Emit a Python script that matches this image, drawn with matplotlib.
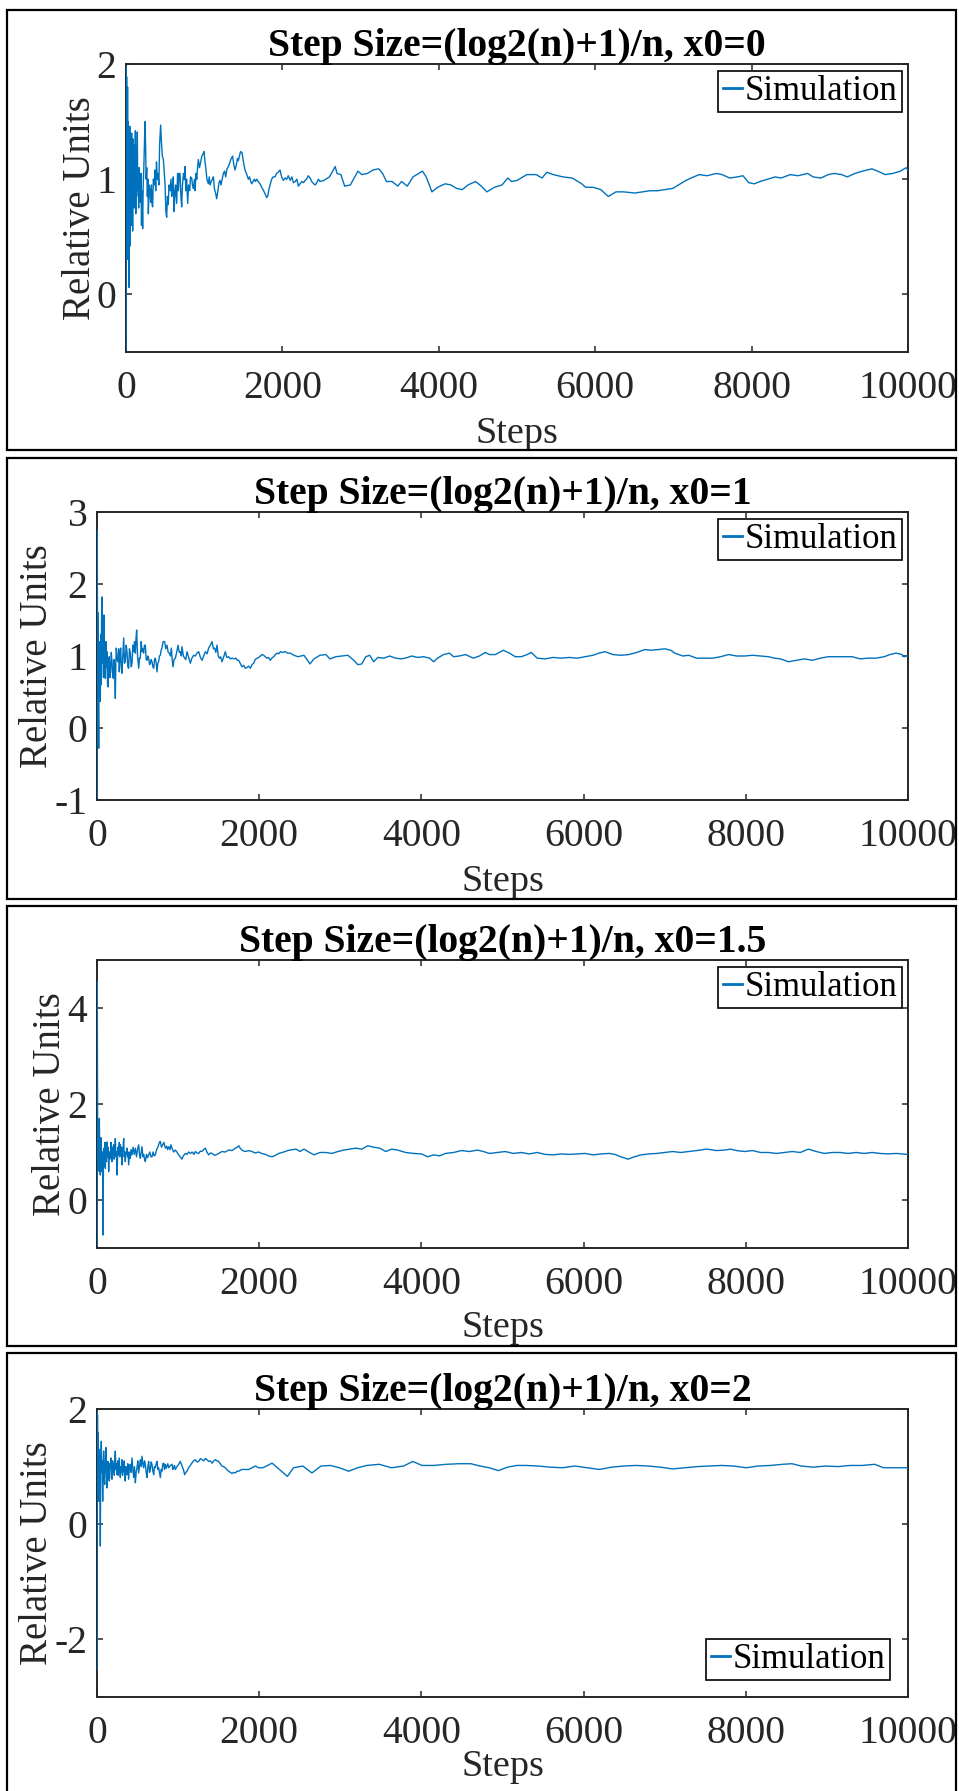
import matplotlib
matplotlib.use("Agg")
import matplotlib.pyplot as plt
from matplotlib.patches import Rectangle

# ---------------- data ----------------
titles = ["Step Size=(log2(n)+1)/n, x0=0",
          "Step Size=(log2(n)+1)/n, x0=1",
          "Step Size=(log2(n)+1)/n, x0=1.5",
          "Step Size=(log2(n)+1)/n, x0=2"]
y_limits = [(-0.5, 2), (-1, 3), (-1, 5), (-3, 2)]
y_ticks = [[0, 1, 2], [-1, 0, 1, 2, 3], [0, 2, 4], [-2, 0, 2]]
x_ticks = [0, 2000, 4000, 6000, 8000, 10000]
legend_label = "Simulation"
x_label = "Steps"
y_label = "Relative Units"

p1_trace = [
    (1, -0.48), (2, 1.98), (5, 1.2), (8, 1.89), (11, 0.3), (14, 1.7), (17, 0.5), (20, 1.8), (24, 0.35), (28, 1.5),
    (32, 0.6), (36, 1.3), (40, 0.06), (44, 0.9), (48, 1.46), (52, 0.42), (56, 1.4), (60, 0.9), (64, 1.1), (68, 0.6),
    (72, 1.4), (76, 0.8), (80, 1.2), (85, 0.55), (90, 1.35), (95, 0.85), (100, 1.3), (105, 0.75), (110, 1.2), (115, 0.95),
    (120, 1.42), (125, 0.7), (130, 1.2), (135, 0.85), (140, 1.1), (145, 1.41), (150, 0.9), (156, 1.05), (162, 0.75), (168, 1.1),
    (174, 0.9), (180, 1.0), (186, 0.8), (192, 1.05), (198, 0.6), (204, 0.9), (213, 0.57), (220, 0.95), (228, 1.1), (236, 1.3),
    (243, 1.5), (250, 1.3), (258, 1.0), (265, 1.1), (273, 0.85), (280, 1.0), (286, 0.7), (295, 0.95), (305, 0.9), (315, 0.8),
    (325, 0.95), (333, 0.78), (341, 0.76), (350, 1.0), (360, 0.95), (371, 1.08), (380, 0.9), (390, 1.15), (400, 1.0), (410, 1.05),
    (420, 0.95), (430, 1.3), (443, 1.47), (455, 1.3), (465, 1.2), (478, 1.17), (490, 1.05), (500, 0.95), (510, 0.72), (520, 0.67),
    (530, 0.85), (540, 0.78), (550, 0.95), (563, 0.9), (575, 1.0), (585, 0.85), (595, 0.95), (605, 1.02), (615, 0.72), (625, 0.88),
    (635, 0.95), (648, 0.79), (660, 1.05), (670, 0.9), (680, 1.05), (691, 1.05), (702, 0.85), (712, 0.76), (722, 0.95), (735, 1.05),
    (745, 1.0), (755, 1.11), (765, 0.9), (775, 1.0), (789, 0.79), (800, 0.95), (815, 0.9), (825, 1.02), (840, 1.01), (850, 0.95),
    (862, 0.92), (875, 1.0), (883, 0.9), (895, 1.05), (905, 1.0), (915, 1.1), (925, 1.17), (940, 1.1), (955, 1.15), (970, 1.2),
    (985, 1.22), (998, 1.24), (1010, 1.15), (1020, 1.1), (1035, 1.0), (1053, 0.96), (1065, 1.02), (1075, 0.95), (1090, 0.98), (1105, 1.0),
    (1117, 1.02), (1130, 0.92), (1145, 0.88), (1160, 0.83), (1175, 0.9), (1190, 0.97), (1202, 0.99), (1215, 0.95), (1230, 1.0), (1245, 1.05),
    (1260, 1.07), (1275, 1.02), (1288, 1.08), (1300, 1.1), (1315, 1.12), (1330, 1.15), (1345, 1.18), (1364, 1.2), (1380, 1.12), (1394, 1.08),
    (1410, 1.12), (1425, 1.18), (1437, 1.16), (1450, 1.2), (1465, 1.24), (1484, 1.23), (1495, 1.18), (1510, 1.12), (1522, 1.08), (1540, 1.05),
    (1555, 1.02), (1565, 1.0), (1580, 1.02), (1595, 0.98), (1608, 0.96), (1625, 0.98), (1640, 1.0), (1655, 0.98), (1671, 1.0), (1690, 0.98),
    (1714, 0.96), (1735, 0.93), (1760, 0.9), (1780, 0.87), (1800, 0.84), (1815, 0.86), (1830, 0.92), (1850, 0.97), (1863, 1.0), (1880, 1.02),
    (1906, 1.02), (1925, 1.05), (1945, 1.06), (1970, 1.08), (1990, 1.02), (2013, 0.99), (2035, 1.01), (2055, 1.0), (2075, 1.03), (2100, 0.99),
    (2120, 1.02), (2141, 0.97), (2165, 0.98), (2185, 1.0), (2205, 0.94), (2225, 0.96), (2250, 0.98), (2270, 0.97), (2290, 0.99), (2310, 1.0),
    (2330, 1.03), (2354, 1.01), (2375, 0.98), (2400, 0.96), (2420, 0.95), (2439, 0.97), (2460, 1.0),
    (2481, 0.98), (2530, 0.99), (2602, 1.02), (2675, 1.11), (2699, 1.05), (2748, 1.04), (2796, 0.94), (2869, 0.95), (2966, 1.07), (3015, 1.04),
    (3087, 1.05), (3160, 1.08), (3233, 1.09), (3281, 1.05), (3330, 0.98), (3403, 0.98), (3475, 0.94), (3524, 0.98), (3597, 0.94), (3670, 1.02),
    (3742, 1.05), (3791, 1.07), (3839, 1.02), (3912, 0.89), (3985, 0.93), (4082, 0.96), (4155, 0.95), (4227, 0.92), (4300, 0.91), (4373, 0.95),
    (4470, 0.98), (4543, 0.94), (4615, 0.89), (4712, 0.93), (4809, 0.95), (4882, 1.01), (4931, 0.98), (5004, 0.99), (5125, 1.04), (5246, 1.04),
    (5319, 1.01), (5382, 1.06), (5464, 1.04), (5586, 1.02), (5707, 1.01), (5828, 0.96), (5877, 0.93), (5974, 0.93), (6071, 0.91), (6168, 0.85),
    (6265, 0.89), (6362, 0.89), (6507, 0.88), (6604, 0.89), (6701, 0.90), (6798, 0.90), (6895, 0.91), (6992, 0.92), (7089, 0.96), (7162, 0.99),
    (7259, 1.02), (7332, 1.04), (7429, 1.03), (7550, 1.05), (7623, 1.04), (7720, 1.01), (7817, 1.02), (7890, 1.03), (7963, 0.97), (8035, 0.96),
    (8108, 0.98), (8205, 1.0), (8302, 1.02), (8375, 1.01), (8496, 1.04), (8593, 1.03), (8715, 1.05), (8787, 1.02), (8884, 1.01), (8981, 1.04),
    (9054, 1.05), (9151, 1.04), (9224, 1.02), (9321, 1.05), (9418, 1.07), (9539, 1.09), (9612, 1.07), (9709, 1.04), (9806, 1.05), (9903, 1.07),
    (9976, 1.10), (10000, 1.08),
]

p2_trace = [
    (1, -0.97), (3, 2.75), (6, 1.4), (9, 0.2), (12, 1.6), (16, 0.37), (21, -0.28), (26, 0.9), (31, 0.45), (36, 1.2),
    (41, 0.37), (46, 1.3), (51, 0.6), (56, 1.5), (62, 1.82), (68, 0.9), (74, 1.15), (80, 0.7), (86, 1.57), (92, 0.8),
    (98, 1.1), (103, 0.69), (110, 1.2), (117, 0.85), (123, 1.06), (130, 0.6), (136, 0.57), (144, 0.95), (152, 0.99), (160, 0.7),
    (168, 0.78), (176, 1.05), (185, 0.92), (193, 0.75), (201, 0.69), (210, 0.95), (218, 0.85), (226, 0.41), (232, 0.9), (238, 1.11),
    (248, 0.95), (259, 0.92), (267, 1.1), (275, 0.78), (283, 1.0), (292, 1.11), (300, 0.85), (308, 0.76), (318, 1.0), (329, 1.25),
    (339, 0.9), (349, 0.92), (360, 1.15), (370, 1.06), (380, 0.85), (390, 0.83), (400, 1.1), (411, 1.04), (422, 0.85), (432, 0.9),
    (442, 1.15), (452, 1.06), (462, 1.2), (473, 1.04), (481, 1.25), (489, 1.36), (500, 1.0), (514, 0.83), (524, 0.97), (534, 0.97),
    (545, 1.2), (555, 1.06), (565, 1.1), (575, 1.04), (585, 1.15), (596, 1.15), (606, 0.95), (617, 0.94), (627, 1.0), (637, 0.97),
    (648, 0.88), (658, 0.9), (668, 0.95), (678, 0.92), (689, 0.85), (699, 0.83), (709, 0.95), (719, 0.97), (730, 0.9), (740, 0.78),
    (750, 0.9), (760, 0.92), (770, 1.0), (781, 1.01), (791, 1.08), (801, 1.11), (815, 1.2), (834, 1.2), (848, 1.1), (863, 1.15),
    (878, 1.05), (892, 1.04), (905, 1.0), (917, 1.11), (927, 0.95), (937, 0.85), (950, 0.95), (966, 0.97), (982, 1.05), (999, 1.15),
    (1015, 1.05), (1027, 1.06), (1040, 1.0), (1048, 1.13), (1065, 1.0), (1081, 0.97), (1095, 0.95), (1110, 1.06), (1130, 0.98), (1151, 0.9),
    (1170, 0.97), (1192, 1.01), (1212, 1.0), (1233, 1.04), (1254, 1.06), (1275, 0.98), (1295, 0.94), (1315, 1.0), (1336, 1.06), (1357, 1.03),
    (1377, 1.11), (1398, 1.15), (1418, 1.2), (1435, 1.1), (1451, 1.11), (1465, 1.05), (1480, 1.15), (1495, 1.0), (1508, 0.97), (1525, 0.99),
    (1541, 0.92), (1560, 0.98), (1582, 1.06), (1600, 0.98), (1623, 0.99), (1645, 0.96), (1665, 0.97), (1690, 0.96), (1714, 0.97), (1730, 0.94),
    (1747, 0.94), (1765, 0.9), (1788, 0.85), (1810, 0.87), (1830, 0.83), (1850, 0.84), (1870, 0.86), (1891, 0.83), (1910, 0.88), (1932, 0.9),
    (1950, 0.95), (1973, 0.97), (1995, 0.98), (2014, 1.0), (2035, 1.02), (2055, 1.01), (2075, 0.99), (2096, 0.97), (2115, 0.98), (2137, 0.94),
    (2155, 0.97), (2178, 0.99), (2200, 1.02), (2219, 1.04), (2240, 1.03), (2261, 1.06), (2290, 1.05), (2322, 1.06), (2350, 1.04),
    (2380, 1.04), (2429, 1.01), (2478, 0.99), (2552, 1.01), (2626, 0.89), (2675, 0.96), (2749, 1.01), (2822, 1.02), (2872, 0.96), (2945, 0.99),
    (3019, 1.0), (3093, 1.01), (3167, 0.94), (3216, 0.88), (3265, 0.89), (3314, 0.99), (3363, 1.01), (3412, 0.92), (3462, 0.98), (3535, 0.97),
    (3609, 1.0), (3683, 0.97), (3756, 0.96), (3830, 0.98), (3879, 1.0), (3953, 0.98), (4027, 0.99), (4101, 0.97), (4150, 0.92), (4199, 0.97),
    (4273, 1.02), (4346, 1.04), (4396, 0.99), (4469, 1.0), (4543, 1.02), (4641, 0.97), (4715, 1.0), (4789, 1.05), (4838, 1.02), (4912, 1.02),
    (5010, 1.08), (5084, 1.04), (5158, 0.99), (5231, 0.99), (5305, 1.02), (5354, 1.05), (5428, 0.97), (5526, 0.96), (5624, 0.98), (5723, 0.97),
    (5821, 0.98), (5920, 0.97), (6018, 0.99), (6116, 1.01), (6190, 1.04), (6264, 1.06), (6362, 1.02), (6460, 1.01), (6559, 1.02), (6657, 1.05),
    (6755, 1.09), (6829, 1.08), (6927, 1.09), (7001, 1.10), (7075, 1.08), (7124, 1.04), (7222, 1.0), (7296, 1.01), (7394, 0.97), (7493, 0.97),
    (7591, 0.97), (7689, 0.99), (7788, 1.02), (7886, 1.0), (7984, 1.0), (8083, 1.01), (8181, 1.0), (8279, 0.99), (8353, 0.97), (8427, 0.96),
    (8525, 0.92), (8623, 0.94), (8721, 0.96), (8820, 0.94), (8918, 0.97), (9017, 0.99), (9115, 0.99), (9213, 0.99), (9311, 0.99), (9410, 0.96),
    (9508, 0.97), (9606, 0.97), (9705, 0.99), (9778, 1.02), (9852, 1.04), (9926, 1.02), (9951, 0.99), (10000, 1.0),
]

p3_trace = [
    (1, -0.95), (3, 4.55), (6, 2.2), (9, 0.9), (12, 1.49), (16, 0.8), (20, 1.5), (25, 0.6), (29, 1.7), (35, 0.7),
    (41, 0.52), (47, 1.3), (53, 1.2), (58, 0.7), (62, 0.59), (68, 1.0), (74, -0.73), (80, 0.9), (86, 1.08), (92, 0.7),
    (98, 1.2), (103, 0.66), (110, 1.1), (116, 0.8), (123, 1.21), (130, 0.9), (137, 1.1), (144, 0.59), (150, 1.0), (157, 0.85),
    (164, 0.94), (172, 1.2), (178, 0.9), (185, 0.8), (192, 1.1), (198, 0.95), (205, 1.15), (212, 0.85), (219, 1.0), (226, 1.28),
    (233, 0.9), (240, 1.0), (247, 0.52), (254, 0.9), (260, 1.1), (267, 0.94), (275, 1.2), (281, 0.9), (288, 1.15), (295, 0.95),
    (302, 1.1), (308, 0.73), (315, 1.0), (322, 1.1), (329, 1.28), (336, 0.9), (342, 1.0), (349, 0.8), (356, 1.0), (363, 0.95),
    (370, 1.08), (377, 0.9), (384, 1.0), (390, 0.73), (398, 0.9), (404, 1.0), (411, 0.87), (420, 1.05), (432, 0.94), (445, 1.1),
    (459, 0.95), (473, 1.08), (487, 0.9), (500, 1.05), (514, 1.15), (524, 0.95), (534, 0.87), (545, 1.0), (555, 1.11), (566, 0.9),
    (576, 0.95), (586, 0.85), (596, 0.80), (610, 0.95), (623, 0.88), (637, 0.94), (650, 1.0), (665, 0.9), (678, 0.90), (692, 1.0),
    (705, 0.92), (719, 0.94), (735, 1.05), (750, 1.1), (760, 1.15), (770, 1.2), (781, 1.22), (795, 1.1), (810, 1.15), (825, 1.2),
    (843, 1.08), (860, 1.12), (870, 1.05), (884, 1.11), (900, 1.05), (912, 1.15), (925, 1.08), (945, 1.0), (966, 1.04), (985, 1.0),
    (1007, 0.94), (1025, 0.9), (1048, 0.85), (1065, 0.92), (1089, 0.97), (1110, 0.95), (1130, 1.0), (1151, 0.97), (1175, 1.0), (1195, 0.95),
    (1212, 1.01), (1233, 0.98), (1254, 0.97), (1275, 1.02), (1295, 1.01), (1315, 1.05), (1336, 1.08), (1355, 1.0), (1377, 0.94), (1398, 0.98),
    (1418, 0.97), (1450, 0.93), (1480, 0.95), (1510, 0.98), (1541, 1.01), (1580, 1.0), (1623, 1.04), (1665, 1.03), (1706, 1.08), (1730, 1.1),
    (1747, 1.13), (1765, 1.08), (1788, 1.04), (1810, 1.02), (1829, 1.01), (1870, 1.03), (1911, 1.01), (1950, 0.98), (1993, 1.0), (2030, 0.97),
    (2076, 0.95), (2115, 0.92), (2158, 0.9), (2200, 0.93), (2240, 0.97), (2280, 0.99), (2322, 1.01), (2350, 1.03),
    (2380, 1.04), (2454, 1.06), (2503, 1.01), (2552, 1.06), (2601, 1.01), (2675, 0.94), (2749, 0.99), (2822, 0.99), (2896, 0.97), (2970, 1.01),
    (3044, 1.04), (3117, 1.06), (3191, 1.08), (3265, 1.06), (3339, 1.13), (3412, 1.10), (3486, 1.08), (3560, 1.01), (3634, 1.06), (3707, 1.04),
    (3806, 0.99), (3904, 0.97), (4002, 0.96), (4076, 0.90), (4150, 0.94), (4224, 0.92), (4297, 0.97), (4396, 0.99), (4494, 1.03), (4592, 1.01),
    (4691, 1.04), (4764, 1.01), (4838, 0.97), (4936, 0.99), (5035, 1.01), (5133, 0.97), (5231, 0.99), (5330, 0.96), (5428, 0.99), (5526, 0.95),
    (5625, 0.94), (5723, 0.96), (5821, 0.95), (5920, 0.96), (6018, 0.97), (6116, 0.94), (6214, 0.96), (6313, 0.97), (6387, 0.95), (6460, 0.90),
    (6549, 0.85), (6608, 0.89), (6706, 0.94), (6804, 0.96), (6903, 0.97), (7001, 0.99), (7099, 1.01), (7198, 0.99), (7296, 1.01), (7394, 1.03),
    (7517, 1.06), (7640, 1.03), (7738, 1.04), (7812, 1.06), (7886, 1.03), (7984, 1.01), (8083, 1.03), (8181, 0.99), (8279, 0.99), (8378, 0.97),
    (8476, 0.99), (8574, 1.01), (8672, 0.99), (8771, 1.06), (8869, 1.01), (8967, 0.97), (9066, 0.99), (9164, 0.99), (9262, 0.97), (9361, 0.99),
    (9459, 0.97), (9557, 0.99), (9656, 0.97), (9754, 0.96), (9852, 0.97), (10000, 0.95),
]

p4_trace = [
    (1, -2.52), (2, 1.96), (4, 0.5), (6, 1.9), (8, 0.8), (10, 1.6), (13, 0.6), (16, 1.5), (19, 0.9), (21, 0.40),
    (25, 1.3), (30, 0.8), (35, 1.2), (41, -0.38), (45, 0.9), (49, 1.2), (53, 1.44), (58, 0.9), (64, 1.1), (70, 0.40),
    (76, 1.0), (82, 1.27), (88, 0.8), (95, 0.69), (103, 1.1), (111, 1.33), (117, 0.9), (123, 0.63), (130, 1.0), (136, 1.09),
    (144, 0.85), (152, 0.75), (158, 1.05), (164, 0.98), (172, 1.15), (178, 0.8), (185, 0.78), (193, 1.1), (199, 0.9), (205, 1.04),
    (213, 0.85), (219, 1.1), (226, 1.27), (233, 0.95), (240, 1.05), (247, 0.86), (255, 1.1), (261, 0.85), (267, 0.98), (274, 1.15),
    (281, 0.9), (288, 0.81), (295, 1.0), (302, 0.9), (308, 1.12), (315, 0.85), (322, 1.0), (329, 0.92), (336, 1.1), (342, 0.8),
    (349, 0.75), (356, 1.0), (363, 0.95), (370, 0.86), (380, 1.05), (390, 0.78), (400, 1.0), (411, 1.04), (420, 0.9), (432, 1.15),
    (442, 0.95), (452, 0.81), (462, 1.0), (473, 0.72), (483, 0.9), (493, 0.98), (503, 1.1), (514, 0.89), (524, 1.0), (534, 1.12),
    (545, 1.0), (555, 1.18), (565, 1.05), (575, 0.98), (586, 1.1), (596, 1.04), (606, 0.9), (617, 0.81), (627, 1.0), (637, 1.09),
    (648, 0.9), (658, 0.95), (668, 1.08), (678, 1.04), (689, 0.92), (699, 0.86), (709, 1.0), (719, 0.98), (730, 1.05), (740, 1.09),
    (750, 0.95), (760, 0.98), (770, 0.9), (781, 0.81), (791, 0.95), (801, 0.92), (812, 1.05), (822, 1.06), (832, 0.95), (843, 1.04),
    (853, 0.97), (863, 1.01), (873, 1.05), (884, 0.98), (905, 1.02), (925, 1.04), (935, 0.95), (945, 0.98), (955, 1.02), (966, 0.95),
    (986, 1.0), (1007, 1.04), (1027, 1.09), (1048, 1.01), (1065, 0.95), (1081, 0.86), (1095, 0.9), (1110, 0.92), (1130, 0.98), (1150, 1.02),
    (1171, 1.06), (1190, 1.1), (1212, 1.12), (1233, 1.08), (1254, 1.09), (1275, 1.14), (1295, 1.12), (1315, 1.1), (1336, 1.14), (1357, 1.12),
    (1377, 1.09), (1398, 1.1), (1418, 1.06), (1440, 1.1), (1459, 1.12), (1480, 1.1), (1500, 1.09), (1520, 1.05), (1541, 1.01), (1560, 1.0),
    (1582, 0.98), (1600, 0.95), (1623, 0.92), (1645, 0.9), (1665, 0.88), (1685, 0.9), (1706, 0.89), (1727, 0.92), (1747, 0.92), (1770, 0.94),
    (1788, 0.95), (1830, 0.95), (1870, 0.95), (1911, 0.98), (1952, 1.01), (1993, 0.98),
    (2046, 0.98), (2159, 1.06), (2273, 0.92), (2348, 0.83), (2423, 0.98), (2537, 1.01), (2650, 0.89), (2763, 1.01), (2876, 1.02), (2989, 0.98),
    (3102, 0.92), (3215, 0.98), (3328, 1.02), (3479, 1.04), (3630, 0.98), (3781, 1.01), (3894, 1.09), (4007, 1.02), (4157, 1.02), (4308, 1.04),
    (4459, 1.05), (4610, 1.05), (4723, 1.01), (4836, 0.98), (4949, 0.93), (5062, 0.99), (5176, 1.02), (5289, 1.02), (5440, 1.01), (5590, 0.99),
    (5741, 0.98), (5892, 1.01), (6043, 0.98), (6194, 0.95), (6344, 0.99), (6495, 1.01), (6646, 1.02), (6797, 1.01), (6948, 0.99), (7098, 0.96),
    (7249, 0.98), (7400, 1.0), (7551, 1.01), (7702, 1.02), (7853, 1.01), (8003, 0.98), (8154, 1.01), (8305, 1.02), (8456, 1.04), (8569, 1.05),
    (8682, 1.01), (8833, 0.99), (8984, 1.01), (9135, 1.0), (9285, 1.02), (9436, 1.02), (9587, 1.04), (9700, 0.98), (9813, 0.98), (10000, 0.98),
]

traces = [p1_trace, p2_trace, p3_trace, p4_trace]

# ---------------- layout (pixels of the 959x1791 canvas) ----------------
W, H, DPI = 959, 1791, 100
axes_px = [(126, 64, 908, 352), (97, 512, 908, 800),
           (97, 960, 908, 1248), (97, 1409, 908, 1697)]
panel_px = [(7, 10, 956, 450), (7, 458, 956, 899),
            (7, 906, 956, 1346), (7, 1353, 956, 1800)]
ylabel_x_px = [81, 38, 51, 38]
xlabel_drop_px = [82, 82, 80, 70]
legend_loc = ["upper right", "upper right", "upper right", "lower right"]
legend_inset_px = [(6, 7), (6, 7), (6, 7), (18, 17)]

LINE_COLOR = "#0072BD"
AX_COLOR = "#262626"

plt.rcParams["font.family"] = ["Liberation Serif", "DejaVu Serif"]
plt.rcParams["axes.unicode_minus"] = False

fig = plt.figure(figsize=(W / DPI, H / DPI), dpi=DPI)
fig.patch.set_facecolor("white")

for i in range(4):
    l, t, r, b = axes_px[i]
    ax = fig.add_axes([l / W, 1 - b / H, (r - l) / W, (b - t) / H])
    xs = [p[0] for p in traces[i]]
    ys = [p[1] for p in traces[i]]
    ax.plot(xs, ys, color=LINE_COLOR, lw=1.0, label=legend_label, zorder=3)
    ax.set_xlim(0, 10000)
    ax.set_ylim(*y_limits[i])
    ax.set_xticks(x_ticks)
    ax.set_xticklabels([str(v) for v in x_ticks])
    ax.set_yticks(y_ticks[i])
    ax.set_yticklabels([str(v) for v in y_ticks[i]])
    for sp in ax.spines.values():
        sp.set_linewidth(1.4)
        sp.set_color(AX_COLOR)
    ax.tick_params(direction="in", top=True, right=True, length=4.5, width=1.1,
                   colors=AX_COLOR, labelcolor="#262626", labelsize=28.5)
    ax.tick_params(axis="x", pad=13)
    ax.tick_params(axis="y", pad=7)
    ax.set_title(titles[i], fontsize=28.5, fontweight="bold", pad=6, color="black")
    ax.set_xlabel(x_label, fontsize=27.5, color="#262626")
    ax.xaxis.label.set_va("center")
    ax.xaxis.set_label_coords(0.5, -xlabel_drop_px[i] / (b - t))
    ax.set_ylabel(y_label, fontsize=28, color="#262626")
    ax.yaxis.label.set_va("center")
    ax.yaxis.set_label_coords((ylabel_x_px[i] - l) / (r - l), 0.5)
    dx, dy = legend_inset_px[i]
    if legend_loc[i] == "upper right":
        anchor = (1 - dx / (r - l), 1 - dy / (b - t))
    else:
        anchor = (1 - dx / (r - l), dy / (b - t))
    leg = ax.legend(loc=legend_loc[i], bbox_to_anchor=anchor, borderaxespad=0,
                    fontsize=25, handlelength=0.55, handletextpad=0.1,
                    borderpad=0.12, fancybox=False, framealpha=1, edgecolor="black")
    leg.get_frame().set_linewidth(1.2)
    for lh in leg.get_lines():
        lh.set_linewidth(2.0)

for (l, t, r, b) in panel_px:
    fig.add_artist(Rectangle((l / W, 1 - b / H), (r - l) / W, (b - t) / H,
                             transform=fig.transFigure, fill=False,
                             lw=1.6, edgecolor="black"))

fig.savefig("out.png", dpi=DPI)
